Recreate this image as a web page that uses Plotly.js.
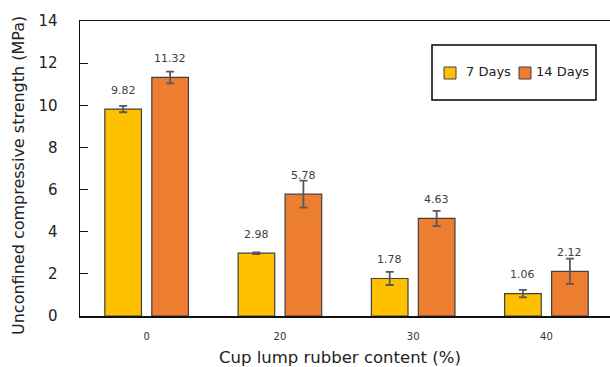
<!DOCTYPE html>
<html>
<head>
<meta charset="utf-8">
<script src="https://cdn.plot.ly/plotly-3.0.1.min.js"></script>
<style>
  html, body { margin: 0; padding: 0; background: #fff; }
  #chart { width: 610px; height: 367px; }
</style>
</head>
<body>
<div id="chart"></div>
<script>
// Rubber content groups and the two curing ages
const rubberContent = ['0', '20', '30', '40'];
const seriesNames = ['7 Days', '14 Days'];
const seriesColors = ['#FFC000', '#ED7D31'];

// Mean UCS (MPa) and standard deviation for each curing age
const ucs7 = [9.82, 2.98, 1.78, 1.06];
const err7 = [0.15, 0.04, 0.31, 0.18];
const ucs14 = [11.32, 5.78, 4.63, 2.12];
const err14 = [0.28, 0.64, 0.36, 0.60];

const xTitle = 'Cup lump rubber content (%)';
const yTitle = 'Unconfined compressive strength (MPa)';

const FONT = 'DejaVu Sans, Verdana, sans-serif';
const BARGAP = 0.295;
const GROUPGAP = 0.22;
const XRANGE = [-0.5, 3.477];
const MARGIN = { l: 80, r: 0, t: 21, b: 51 };
const PLOT_W = 610 - MARGIN.l - MARGIN.r;
const PLOT_H = 367 - MARGIN.t - MARGIN.b;

function barTrace(name, vals, errs, color) {
  return {
    type: 'bar',
    name: name,
    x: rubberContent,
    y: vals,
    marker: { color: color, line: { color: '#404040', width: 1.2 } },
    error_y: { type: 'data', array: errs, visible: true, color: '#595959', thickness: 1.8, width: 4 },
    showlegend: false,
    hoverinfo: 'y'
  };
}

const traces = [
  barTrace(seriesNames[0], ucs7, err7, seriesColors[0]),
  barTrace(seriesNames[1], ucs14, err14, seriesColors[1])
];

// Value labels above each bar, offset horizontally to the bar's slot
const pxPerCat = PLOT_W / (XRANGE[1] - XRANGE[0]);
const slot = pxPerCat * (1 - BARGAP) / 2;
const annotations = [];
[ucs7, ucs14].forEach((vals, si) => {
  vals.forEach((v, i) => {
    annotations.push({
      x: i, y: v, xref: 'x', yref: 'y',
      text: v.toFixed(2), showarrow: false,
      xshift: (si === 0 ? -1 : 1) * slot / 2, yshift: 19,
      font: { family: FONT, size: 11, color: '#404040' },
      xanchor: 'center', yanchor: 'middle'
    });
  });
});

// Pixel -> paper helpers
const px2x = px => (px - MARGIN.l) / PLOT_W;
const py2y = py => 1 - (py - MARGIN.t) / PLOT_H;

// Axis titles
annotations.push({
  xref: 'paper', yref: 'paper', x: px2x(340), y: py2y(357),
  text: xTitle, showarrow: false, xanchor: 'center', yanchor: 'middle',
  font: { family: FONT, size: 16.5, color: '#222' }
});
annotations.push({
  xref: 'paper', yref: 'paper', x: px2x(18), y: py2y(176),
  text: yTitle, showarrow: false, textangle: -90, xanchor: 'center', yanchor: 'middle',
  font: { family: FONT, size: 16, color: '#222' }
});

// Legend drawn as a framed box with swatches and labels
const shapes = [{
  type: 'rect', xref: 'paper', yref: 'paper',
  x0: px2x(432), x1: px2x(596), y0: py2y(100), y1: py2y(45),
  line: { color: '#000', width: 1.5 }, fillcolor: 'rgba(0,0,0,0)'
}];
const legendItems = [{ sx: 444, tx: 464 }, { sx: 519, tx: 534 }];
legendItems.forEach((it, k) => {
  shapes.push({
    type: 'rect', xref: 'paper', yref: 'paper',
    x0: px2x(it.sx), x1: px2x(it.sx + 12), y0: py2y(79), y1: py2y(67),
    line: { color: '#404040', width: 1 }, fillcolor: seriesColors[k]
  });
  annotations.push({
    xref: 'paper', yref: 'paper',
    x: px2x(it.tx), y: py2y(72),
    text: seriesNames[k], showarrow: false, xanchor: 'left', yanchor: 'middle',
    font: { family: FONT, size: 13, color: '#222' }
  });
});

const layout = {
  width: 610, height: 367,
  margin: MARGIN,
  paper_bgcolor: '#fff', plot_bgcolor: '#fff',
  barmode: 'group', bargap: BARGAP, bargroupgap: GROUPGAP,
  font: { family: FONT, color: '#222' },
  xaxis: {
    type: 'category', range: XRANGE,
    showline: true, linecolor: '#111', linewidth: 1.5, mirror: true,
    ticks: '', showgrid: false, zeroline: false,
    tickfont: { family: FONT, size: 10, color: '#333' },
    ticklabelstandoff: 10
  },
  yaxis: {
    range: [0, 14], dtick: 2,
    showline: true, linecolor: '#111', linewidth: 1.5,
    ticks: 'inside', ticklen: 8, tickcolor: '#111', tickwidth: 1.2,
    showgrid: false, zeroline: false,
    tickfont: { family: FONT, size: 15, color: '#222' },
    ticklabelstandoff: 18
  },
  annotations: annotations,
  shapes: shapes,
  showlegend: false
};

Plotly.newPlot('chart', traces, layout, { displayModeBar: false, staticPlot: true });
</script>
</body>
</html>
